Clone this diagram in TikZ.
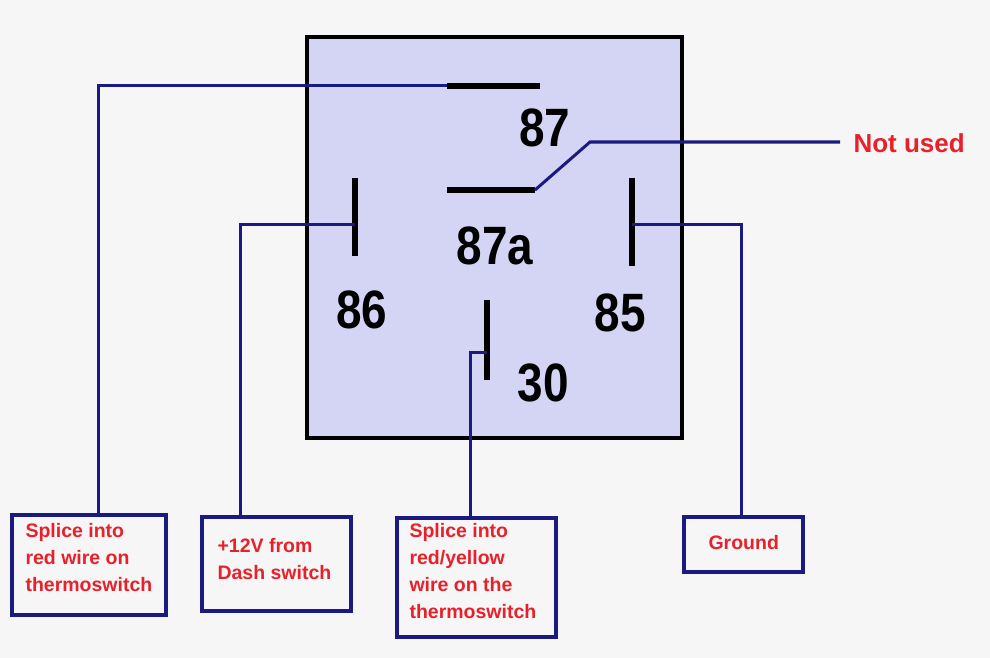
\documentclass[tikz,border=0pt]{standalone}
\usepackage{fontspec}
\setmainfont{Liberation Sans}
\begin{document}
\begin{tikzpicture}[x=1pt,y=-1pt,
  wire/.style={draw={rgb,255:red,26;green,26;blue,128},line width=3pt},
  bar/.style={draw=black,line width=6pt},
  lab/.style={draw={rgb,255:red,26;green,26;blue,128},line width=3.5pt,inner sep=0pt},
  ltxt/.style={text={rgb,255:red,232;green,32;blue,42},font=\bfseries\fontsize{19.5}{27}\selectfont,align=left,anchor=north west},
  num/.style={font=\bfseries\fontsize{54}{54}\selectfont,text=black,xscale=0.85}]
\fill[gray!7] (0,0) rectangle (990,658);
\useasboundingbox (0,0) rectangle (990,658);
\draw[line width=4pt,fill={rgb,255:red,212;green,212;blue,244}] (307,37) rectangle (682,438);
% contacts
\coordinate (b87l) at (447,86); \coordinate (b87r) at (540,86);
\draw[bar] (b87l) -- (b87r);
\node[num] (n87) at (545,128) {87};
\coordinate (b87al) at (447,190); \coordinate (b87ar) at (535,190);
\draw[bar] (b87al) -- (b87ar);
\node[num] (n87a) at (495,246) {87a};
\coordinate (sw) at (590,142); \coordinate (nu) at (840,142);
\draw[wire] (b87ar) -- (sw) -- (nu);
\node[text={rgb,255:red,232;green,32;blue,42},font=\bfseries\fontsize{26}{30}\selectfont,anchor=west] (nut) at (850,143) {Not used};
\coordinate (b86t) at (355,178); \coordinate (b86b) at (355,256);
\draw[bar] (b86t) -- (b86b);
\node[num] (n86) at (362,310) {86};
\coordinate (b85t) at (632,178); \coordinate (b85b) at (632,266);
\draw[bar] (b85t) -- (b85b);
\node[num] (n85) at (620,313) {85};
\coordinate (b30t) at (487,300); \coordinate (b30b) at (487,380);
\draw[bar] (b30t) -- (b30b);
\node[num] (n30) at (543,383) {30};
% boxes
\draw[lab] (12,515) rectangle (166,615);
\node[ltxt] (t1) at (22,520) {Splice into\\red wire on\\thermoswitch};
\draw[lab] (202,517) rectangle (351,611);
\node[ltxt] (t2) at (214,535) {+12V from\\Dash switch};
\draw[lab] (397,518) rectangle (556,637);
\node[ltxt] (t3) at (406,520) {Splice into\\red/yellow\\wire on the\\thermoswitch};
\draw[lab] (684,517) rectangle (803,572);
\node[ltxt] (t4) at (705,532) {Ground};
% wires
\draw[wire] (b87l) -- (98,86) -- (98,515);
\draw[wire] (355,224) -- (240,224) -- (240,517);
\draw[wire] (632,224) -- (741,224) -- (741,517);
\draw[wire] (487,352) -- (470,352) -- (470,518);
\end{tikzpicture}
\end{document}
